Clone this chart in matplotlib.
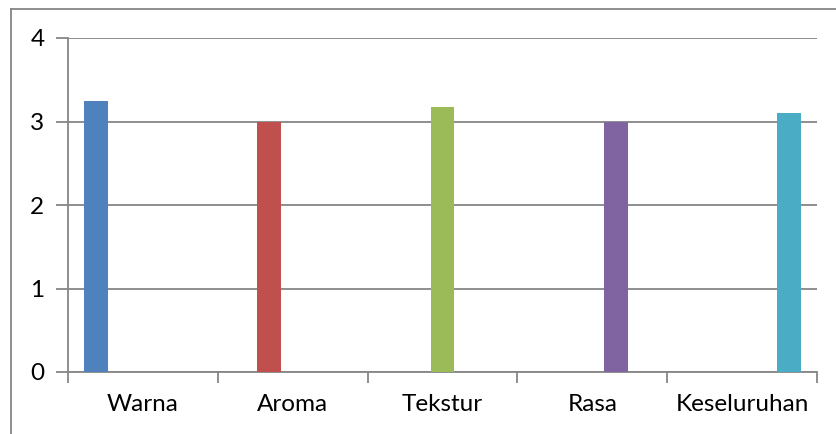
import matplotlib.pyplot as plt
from matplotlib.lines import Line2D
import numpy as np

plt.rcParams['font.family'] = ['Lato', 'DejaVu Sans']

categories = ['Warna', 'Aroma', 'Tekstur', 'Rasa', 'Keseluruhan']
values = [3.24, 3.00, 3.17, 3.00, 3.10]
colors = ['#4F81BD', '#C0504D', '#9BBB59', '#8064A2', '#4BACC6']
grey = '#868686'

fig = plt.figure(figsize=(8.36, 4.34), dpi=100)
ax = fig.add_axes([68 / 836, 62 / 434, 749 / 836, 334 / 434])

# each series sits at its own slot in the group, like a clustered column chart
n = len(categories)
w = 0.157
x = np.arange(n)
for i in range(n):
    ax.bar(x[i] + (i - (n - 1) / 2) * w, values[i], width=w,
           color=colors[i], zorder=3)

ax.set_xlim(-0.5, n - 0.5)
ax.set_ylim(0, 4)
ax.set_yticks([0, 1, 2, 3, 4])
ax.yaxis.grid(True, color=grey, linewidth=1.3, zorder=0)

ax.set_xticks(x)
ax.set_xticklabels(categories)
ax.set_xticks(np.arange(n + 1) - 0.5, minor=True)
ax.tick_params(axis='x', which='major', length=0, pad=16, labelsize=17.5)
ax.tick_params(axis='x', which='minor', length=8, width=1.3, color=grey)
ax.tick_params(axis='y', length=9, width=1.3, color=grey, pad=8, labelsize=17.5)

for s in ['top', 'right']:
    ax.spines[s].set_visible(False)
for s in ['left', 'bottom']:
    ax.spines[s].set_color(grey)
    ax.spines[s].set_linewidth(1.3)

# chart area border (left and top edges)
fig.add_artist(Line2D([11 / 836, 11 / 836], [0, 1 - 9 / 434],
                      transform=fig.transFigure, color=grey, lw=1.3))
fig.add_artist(Line2D([11 / 836, 1], [1 - 9 / 434, 1 - 9 / 434],
                      transform=fig.transFigure, color=grey, lw=1.3))

fig.savefig('out.png', dpi=100)
